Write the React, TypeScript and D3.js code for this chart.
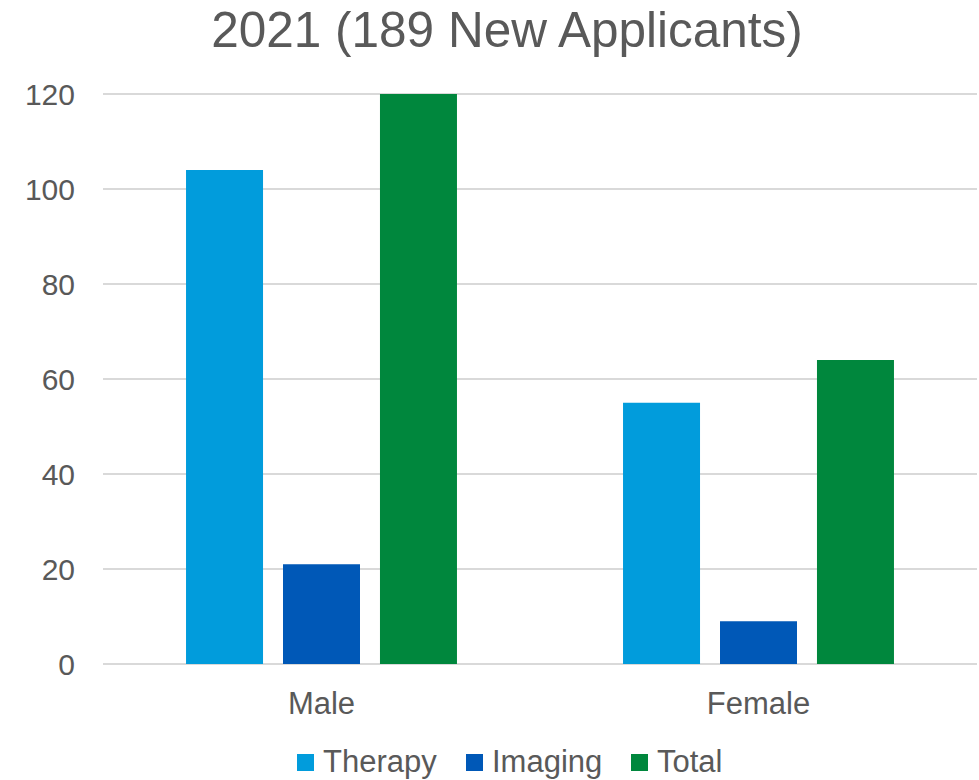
import React from "react";
import * as d3 from "d3";

const categories = ["Male", "Female"];
const seriesNames = ["Therapy", "Imaging", "Total"];
const therapy = [104, 55];
const imaging = [21, 9];
const total = [120, 64];
const yTicks = [0, 20, 40, 60, 80, 100, 120];
const title = "2021 (189 New Applicants)";
const colors = ["#019CDC", "#0058B7", "#00873D"];

const W = 979;
const H = 780;
const FONT = "'Liberation Sans', Arial, sans-serif";
const TEXT = "#595959";

export default function App() {
  const seriesValues = [therapy, imaging, total];
  const x0 = d3.scaleBand<string>().domain(categories).range([103, 977]).paddingInner(0.38).paddingOuter(0.19);
  const x1 = d3.scaleBand<string>().domain(seriesNames).range([0, x0.bandwidth()]).paddingInner(0.206).paddingOuter(0);
  const y = d3.scaleLinear().domain([0, 120]).range([664, 94]);

  const legendItems = [
    { name: seriesNames[0], x: 297 },
    { name: seriesNames[1], x: 466 },
    { name: seriesNames[2], x: 631 },
  ];

  return (
    <div style={{ position: "absolute", left: 0, top: 0 }}>
      <svg width={W} height={H} style={{ display: "block", background: "#fff" }}>
        <text x={507} y={47} textAnchor="middle" fontFamily={FONT} fontSize={49.5} fill={TEXT}>
          {title}
        </text>
        {yTicks.map((t) => (
          <g key={t}>
            <line x1={103} x2={977} y1={y(t)} y2={y(t)} stroke="#D9D9D9" strokeWidth={2} />
            <text x={75} y={y(t) + 11} textAnchor="end" fontFamily={FONT} fontSize={30} fill={TEXT}>
              {t}
            </text>
          </g>
        ))}
        {categories.map((c, ci) => (
          <g key={c} transform={`translate(${x0(c)},0)`}>
            {seriesNames.map((s, si) => {
              const v = seriesValues[si][ci];
              return (
                <rect
                  key={s}
                  x={x1(s)}
                  y={y(v)}
                  width={x1.bandwidth()}
                  height={y(0) - y(v)}
                  fill={colors[si]}
                />
              );
            })}
            <text
              x={x0.bandwidth() / 2}
              y={714}
              textAnchor="middle"
              fontFamily={FONT}
              fontSize={31}
              fill={TEXT}
            >
              {c}
            </text>
          </g>
        ))}
        {legendItems.map((it, i) => (
          <g key={it.name}>
            <rect x={it.x} y={754} width={17} height={17} fill={colors[i]} />
            <text x={it.x + 26} y={772} fontFamily={FONT} fontSize={31} fill={TEXT}>
              {it.name}
            </text>
          </g>
        ))}
      </svg>
    </div>
  );
}
